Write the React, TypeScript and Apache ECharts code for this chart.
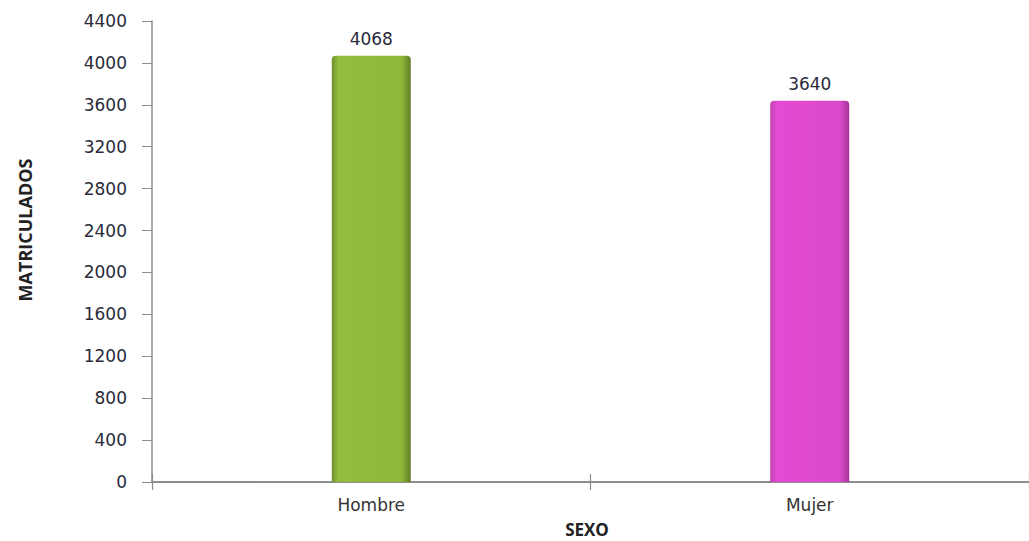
import React, { useEffect, useRef } from "react";
import * as echarts from "echarts";

const categories = ["Hombre", "Mujer"];
const values = [4068, 3640];
const yTicks = { min: 0, max: 4400, interval: 400 };
const yTitle = "MATRICULADOS";
const xTitle = "SEXO";

const barColors = [
  ["#6f8f2c", "#92bd3e", "#8fb83a", "#5e7d24"],
  ["#c040b0", "#e24cd2", "#dc48cc", "#a8349a"],
];

export default function App() {
  const ref = useRef<HTMLDivElement>(null);
  useEffect(() => {
    const chart = echarts.init(ref.current!, null, { renderer: "svg" });
    const font = "DejaVu Sans";
    const axisColor = "#8c8c8c";
    chart.setOption({
      animation: false,
      backgroundColor: "#ffffff",
      grid: { left: 152, right: -5, top: 21, bottom: 59 },
      xAxis: [
        {
          type: "category",
          data: categories,
          axisLine: { lineStyle: { color: axisColor, width: 1.5 } },
          axisTick: { alignWithLabel: true, length: 6, lineStyle: { color: axisColor, width: 1.2 } },
          axisLabel: { color: "#333", fontFamily: font, fontSize: 17, margin: 14 },
        },
        {
          type: "category",
          data: categories,
          position: "bottom",
          axisLine: { show: true, lineStyle: { color: axisColor, width: 1.5 } },
          axisTick: { show: true, inside: true, length: 8, lineStyle: { color: axisColor, width: 1.2 } },
          axisLabel: { show: false },
        },
        {
          type: "category",
          data: categories,
          position: "bottom",
          axisLine: { show: true, lineStyle: { color: axisColor, width: 1.5 } },
          axisTick: { show: true, inside: false, length: 8, lineStyle: { color: axisColor, width: 1.2 } },
          axisLabel: { show: false },
        },
      ],
      yAxis: {
        type: "value",
        min: yTicks.min,
        max: yTicks.max,
        interval: yTicks.interval,
        splitLine: { show: false },
        axisLine: { show: true, lineStyle: { color: axisColor, width: 1.5 } },
        axisTick: { show: true, length: 10, lineStyle: { color: axisColor } },
        axisLabel: {
          color: "#2a2a3a",
          fontFamily: font,
          fontSize: 17,
          margin: 25,
          formatter: (v: number) => String(v),
        },
      },
      series: [
        {
          type: "bar",
          barWidth: 79,
          z: 3,
          data: values.map((v, i) => ({
            value: v,
            itemStyle: {
              borderRadius: [4, 4, 0, 0],
              color: new echarts.graphic.LinearGradient(0, 0, 1, 0, [
                { offset: 0, color: barColors[i][0] },
                { offset: 0.08, color: barColors[i][1] },
                { offset: 0.88, color: barColors[i][2] },
                { offset: 1, color: barColors[i][3] },
              ]),
            },
          })),
          label: {
            show: true,
            position: "top",
            distance: 8,
            color: "#2a2a3a",
            fontFamily: font,
            fontSize: 17,
          },
        },
      ],
      graphic: [
        {
          type: "text",
          x: 25,
          y: 230,
          rotation: Math.PI / 2,
          style: {
            text: yTitle,
            fontFamily: "Open Sans",
            fontWeight: "bold",
            fontSize: 18,
            fill: "#222",
            align: "center",
            verticalAlign: "middle",
          },
        },
        {
          type: "text",
          x: 587,
          y: 529,
          style: {
            text: xTitle,
            fontFamily: "Open Sans",
            fontWeight: "bold",
            fontSize: 17,
            fill: "#222",
            align: "center",
            verticalAlign: "middle",
          },
        },
      ],
    });
    return () => chart.dispose();
  }, []);
  return (
    <div
      ref={ref}
      style={{ position: "fixed", left: 0, top: 0, width: 1029, height: 541 }}
    />
  );
}
